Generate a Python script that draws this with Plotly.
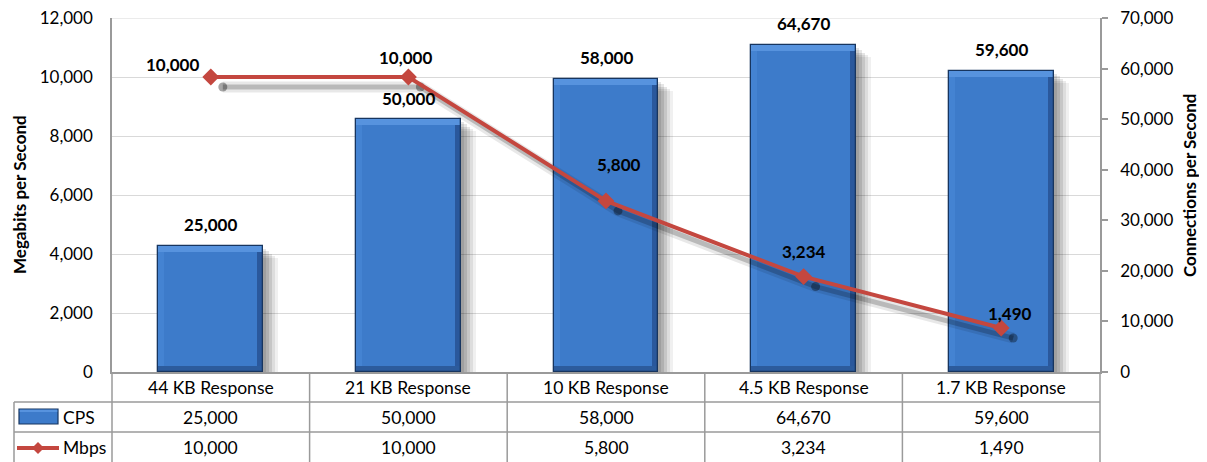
import plotly.graph_objects as go

# ---------------- data ----------------
categories = ["44 KB Response", "21 KB Response", "10 KB Response", "4.5 KB Response", "1.7 KB Response"]
cps = [25000, 50000, 58000, 64670, 59600]
mbps = [10000, 10000, 5800, 3234, 1490]
left_ticks = [0, 2000, 4000, 6000, 8000, 10000, 12000]
right_ticks = [0, 10000, 20000, 30000, 40000, 50000, 60000, 70000]
series_names = ["CPS", "Mbps"]

# ---------------- geometry / style ----------------
PAGE_OFF = 8                      # default body margin of the html page
W, H = 1207, 462                  # window size
FW, FH = W - PAGE_OFF, H - PAGE_OFF
L, R, T, B = 112, 1100, 18, 372   # plot area in window pixels
ROW1, ROW2, ROW3 = 402, 432, 462
TABLE_LEFT = 14
FONT = "Lato"
RED = "#c4473f"
BLUE_FACE = "#3d7bca"
BLUE_TOP = "#5793de"
BLUE_LEFT = "#4483d2"
BLUE_RIGHT = "#2a589c"
BLUE_BOTTOM = "#2c5b9c"
BLUE_OUTLINE = "#17355f"
GRID = "#d9d9d9"
AXIS = "#9a9a9a"

Y1MAX, Y2MAX = 12000, 70000
CAT_PX = (R - L) / len(categories)
Y2_PER_PX = Y2MAX / (B - T)
BW = 0.53
EDGE = 6 / CAT_PX
BEVEL = 6 * Y2_PER_PX


def px(x):
    return (x - PAGE_OFF) / FW


def py(y):
    return 1 - (y - PAGE_OFF) / FH


fig = go.Figure()

# anchor trace for the primary (left) subplot, not visible
fig.add_trace(go.Scatter(x=categories, y=mbps, xaxis="x", yaxis="y", mode="markers",
                         marker=dict(opacity=0), hoverinfo="skip", showlegend=False))

# bar shadows (soft, layered)
for dx, dy, a in [(3, 3, 0.10), (6, 5, 0.10), (9, 8, 0.10), (12, 10, 0.08), (15, 12, 0.06)]:
    fig.add_trace(go.Bar(
        x=categories, y=[v - dy * Y2_PER_PX for v in cps], xaxis="x", yaxis="y2",
        width=BW, offset=-BW / 2 + dx / CAT_PX,
        marker=dict(color=f"rgba(0,0,0,{a})", line=dict(width=0)),
        hoverinfo="skip", showlegend=False))

# main bars (face)
fig.add_trace(go.Bar(
    x=categories, y=cps, xaxis="x", yaxis="y2", name=series_names[0],
    width=BW, offset=-BW / 2,
    marker=dict(color=BLUE_FACE, line=dict(width=0)), showlegend=False))
# bevel strips
fig.add_trace(go.Bar(x=categories, y=cps, xaxis="x", yaxis="y2", width=EDGE, offset=-BW / 2,
                     marker=dict(color=BLUE_LEFT, line=dict(width=0)), hoverinfo="skip", showlegend=False))
fig.add_trace(go.Bar(x=categories, y=cps, xaxis="x", yaxis="y2", width=EDGE, offset=BW / 2 - EDGE,
                     marker=dict(color=BLUE_RIGHT, line=dict(width=0)), hoverinfo="skip", showlegend=False))
fig.add_trace(go.Bar(x=categories, y=[BEVEL for _ in cps], base=[0 for _ in cps], xaxis="x", yaxis="y2",
                     width=BW, offset=-BW / 2,
                     marker=dict(color=BLUE_BOTTOM, line=dict(width=0)), hoverinfo="skip", showlegend=False))
fig.add_trace(go.Bar(x=categories, y=[BEVEL for _ in cps], base=[v - BEVEL for v in cps], xaxis="x", yaxis="y2",
                     width=BW, offset=-BW / 2,
                     marker=dict(color=BLUE_TOP, line=dict(width=0)), hoverinfo="skip", showlegend=False))
# outline
fig.add_trace(go.Bar(x=categories, y=cps, xaxis="x", yaxis="y2", width=BW, offset=-BW / 2,
                     marker=dict(color="rgba(0,0,0,0)", line=dict(width=1.3, color=BLUE_OUTLINE)),
                     hoverinfo="skip", showlegend=False))

# line shadow (shifted subplot)
fig.add_trace(go.Scatter(x=categories, y=mbps, xaxis="x3", yaxis="y3", mode="lines",
                         line=dict(color="rgba(0,0,0,0.09)", width=11), hoverinfo="skip", showlegend=False))
fig.add_trace(go.Scatter(x=categories, y=mbps, xaxis="x3", yaxis="y3", mode="lines+markers",
                         line=dict(color="rgba(0,0,0,0.20)", width=5),
                         marker=dict(symbol="circle", size=9, color="rgba(0,0,0,0.35)"),
                         hoverinfo="skip", showlegend=False))

# red line
fig.add_trace(go.Scatter(x=categories, y=mbps, xaxis="x4", yaxis="y4", mode="lines+markers",
                         name=series_names[1], line=dict(color=RED, width=4),
                         marker=dict(symbol="diamond", size=13, color=RED), showlegend=False))

TICK_SIZE = 17
LABEL_SIZE = 17
TABLE_SIZE = 17.5
TITLE_SIZE = 17
tick_font = dict(family=FONT, size=TICK_SIZE, color="#000")
EPS1, EPS2 = Y1MAX * 1e-4, Y2MAX * 1e-4
fig.update_layout(
    template="none",
    width=FW, height=FH, margin=dict(l=0, r=0, t=0, b=0, autoexpand=False),
    paper_bgcolor="white", plot_bgcolor="rgba(0,0,0,0)",
    barmode="overlay", bargap=0, showlegend=False,
    font=dict(family=FONT, size=16, color="#000"),
    xaxis=dict(domain=[px(L), px(R)], type="category", range=[-0.5, len(categories) - 0.5],
               showticklabels=False, ticks="", showgrid=False, zeroline=False, automargin=False,
               showline=True, linecolor=AXIS, linewidth=1.5, anchor="y", fixedrange=True),
    yaxis=dict(domain=[py(B), py(T)], range=[0, Y1MAX + EPS1], tickvals=left_ticks, tickformat=",",
               showgrid=True, gridcolor=GRID, gridwidth=1, zeroline=False, automargin=False,
               showline=True, linecolor=AXIS, linewidth=1.5, ticks="", side="left",
               ticklabelstandoff=14, tickfont=tick_font, anchor="x", ticklabeloverflow="allow"),
    yaxis2=dict(overlaying="y", side="right", range=[0, Y2MAX + EPS2], tickvals=right_ticks, tickformat=",",
                showgrid=False, zeroline=False, showline=True, linecolor=AXIS, linewidth=1.5,
                ticks="outside", ticklen=6, tickcolor=AXIS, tickwidth=1.5, automargin=False,
                ticklabelstandoff=9, tickfont=tick_font, anchor="x", ticklabeloverflow="allow"),
    xaxis3=dict(domain=[px(L + 12), px(R + 12)], type="category", range=[-0.5, len(categories) - 0.5],
                visible=False, anchor="y3"),
    yaxis3=dict(domain=[py(B + 10), py(T + 10)], range=[0, Y1MAX + EPS1], visible=False, anchor="x3"),
    xaxis4=dict(domain=[px(L), px(R)], type="category", range=[-0.5, len(categories) - 0.5],
                visible=False, anchor="y4"),
    yaxis4=dict(domain=[py(B), py(T)], range=[0, Y1MAX + EPS1], visible=False, anchor="x4"),
)

ann = []
# axis titles
ann.append(dict(text="<b>Megabits per Second</b>", x=px(19), y=py(195), xref="paper", yref="paper",
                textangle=-90, showarrow=False, font=dict(family=FONT, size=TITLE_SIZE, color="#000"),
                xanchor="center", yanchor="middle"))
ann.append(dict(text="<b>Connections per Second</b>", x=px(1190), y=py(186), xref="paper", yref="paper",
                textangle=-90, showarrow=False, font=dict(family=FONT, size=TITLE_SIZE, color="#000"),
                xanchor="center", yanchor="middle"))

# bar data labels
for i, v in enumerate(cps):
    ann.append(dict(text=f"<b>{v:,}</b>", x=i, y=v, xref="x", yref="y2", showarrow=False,
                    xanchor="center", yanchor="middle", yshift=21,
                    font=dict(family=FONT, size=LABEL_SIZE, color="#000")))

# line data labels (manual placement like the original)
line_label_place = [("right", -10, 13), ("center", -3, 20), ("center", 13, 36), ("center", 0, 25), ("center", 9, 15)]
for i, v in enumerate(mbps):
    anc, xs, ys = line_label_place[i]
    ann.append(dict(text=f"<b>{v:,}</b>", x=i, y=v, xref="x4", yref="y4", showarrow=False,
                    xanchor=anc, yanchor="middle", xshift=xs, yshift=ys,
                    font=dict(family=FONT, size=LABEL_SIZE, color="#000")))

# data table text
tfont = dict(family=FONT, size=TABLE_SIZE, color="#000")
for i, c in enumerate(categories):
    ann.append(dict(text=c, x=i, y=py((B + ROW1) / 2), xref="x", yref="paper", showarrow=False,
                    xanchor="center", yanchor="middle", font=tfont))
    ann.append(dict(text=f"{cps[i]:,}", x=i, y=py((ROW1 + ROW2) / 2), xref="x", yref="paper", showarrow=False,
                    xanchor="center", yanchor="middle", font=tfont))
    ann.append(dict(text=f"{mbps[i]:,}", x=i, y=py((ROW2 + ROW3) / 2), xref="x", yref="paper", showarrow=False,
                    xanchor="center", yanchor="middle", font=tfont))
for name, yy in zip(series_names, [(ROW1 + ROW2) / 2, (ROW2 + ROW3) / 2]):
    ann.append(dict(text=name, x=px(61), y=py(yy), xref="paper", yref="paper", showarrow=False,
                    xanchor="left", yanchor="middle", font=tfont))
fig.update_layout(annotations=ann)

shapes = []
# top gridline (plotly drops gridlines that sit on the plot edge)
shapes.append(dict(type="line", xref="x domain", yref="y", x0=0, x1=1, y0=Y1MAX, y1=Y1MAX,
                   line=dict(color=GRID, width=1), layer="below"))
tl = dict(color=AXIS, width=1.5)
# horizontal table lines
for yy in (ROW1, ROW2):
    shapes.append(dict(type="line", xref="paper", yref="paper", x0=px(TABLE_LEFT), x1=px(R),
                       y0=py(yy), y1=py(yy), line=tl))
# vertical table lines
shapes.append(dict(type="line", xref="paper", yref="paper", x0=px(TABLE_LEFT), x1=px(TABLE_LEFT),
                   y0=py(ROW1), y1=py(ROW3), line=tl))
shapes.append(dict(type="line", xref="paper", yref="paper", x0=px(L), x1=px(L),
                   y0=py(B), y1=py(ROW3), line=tl))
shapes.append(dict(type="line", xref="paper", yref="paper", x0=px(R), x1=px(R),
                   y0=py(B), y1=py(ROW3), line=tl))
for i in range(len(categories) - 1):
    shapes.append(dict(type="line", xref="x", yref="paper", x0=i + 0.5, x1=i + 0.5,
                       y0=py(B), y1=py(ROW3), line=tl))
# legend keys
shapes.append(dict(type="rect", xref="paper", yref="paper", x0=px(19), x1=px(58), y0=py(424), y1=py(409),
                   fillcolor=BLUE_FACE, line=dict(color=BLUE_OUTLINE, width=1.2)))
shapes.append(dict(type="rect", xref="paper", yref="paper", x0=px(19.7), x1=px(57.3), y0=py(412), y1=py(409.7),
                   fillcolor=BLUE_TOP, line=dict(width=0)))
shapes.append(dict(type="line", xref="paper", yref="paper", x0=px(17), x1=px(59), y0=py(448), y1=py(448),
                   line=dict(color=RED, width=4)))
cx, cy, d = 38, 448, 6
shapes.append(dict(type="path", xref="paper", yref="paper",
                   path=f"M {px(cx - d)},{py(cy)} L {px(cx)},{py(cy - d)} L {px(cx + d)},{py(cy)} L {px(cx)},{py(cy + d)} Z",
                   fillcolor=RED, line=dict(width=0)))
fig.update_layout(shapes=shapes)

fig.write_html("out.html")
